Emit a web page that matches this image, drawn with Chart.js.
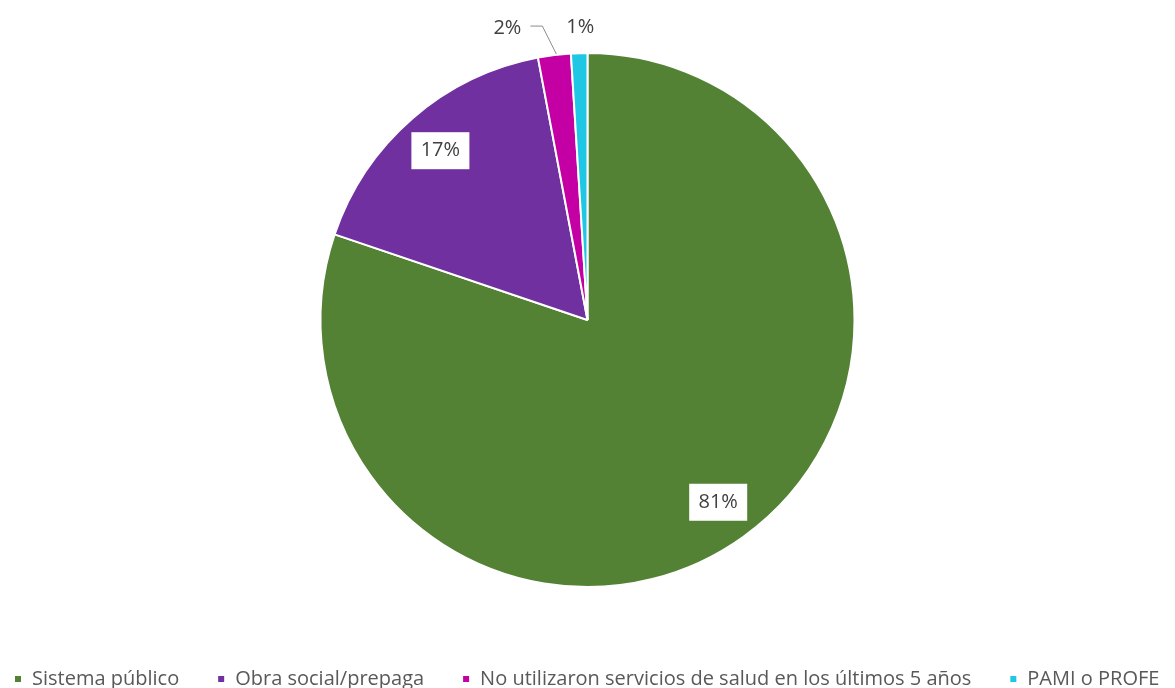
<!DOCTYPE html>
<html lang="es">
<head>
<meta charset="utf-8">
<title>Cobertura de salud</title>
<script src="https://cdn.jsdelivr.net/npm/chart.js@4/dist/chart.umd.min.js"></script>
<style>
  html, body { margin: 0; padding: 0; background: #ffffff; }
  #wrap { width: 1175px; height: 688px; position: relative; }
</style>
</head>
<body>
<div id="wrap"><canvas id="pie"></canvas></div>
<script>
// Categories and shares (percent)
const categories = [
  'Sistema público',
  'Obra social/prepaga',
  'No utilizaron servicios de salud en los últimos 5 años',
  'PAMI o PROFE'
];
const shares = [81, 17, 2, 1];
const sliceColors = ['#548235', '#7030A0', '#C400A4', '#1FC7E4'];

const FONT = '"Open Sans", Lato, "Liberation Sans", sans-serif';

// Percent labels: boxed inside big slices, outside with leader for thin ones
const sliceLabels = {
  id: 'sliceLabels',
  afterDatasetsDraw(chart) {
    const ctx = chart.ctx;
    const meta = chart.getDatasetMeta(0);
    const values = chart.data.datasets[0].data;
    const total = values.reduce((a, b) => a + b, 0);
    ctx.save();
    ctx.font = '20px ' + FONT;
    ctx.textAlign = 'center';
    ctx.textBaseline = 'middle';
    meta.data.forEach((arc, i) => {
      const p = arc.getProps(['x', 'y', 'startAngle', 'endAngle', 'outerRadius'], true);
      const mid = (p.startAngle + p.endAngle) / 2;
      const text = values[i] + '%';
      if (values[i] / total > 0.1) {
        const r = p.outerRadius * 0.84;
        const cx = p.x + Math.cos(mid) * r;
        const cy = p.y + Math.sin(mid) * r;
        const w = 58, h = 37;
        ctx.fillStyle = '#ffffff';
        ctx.fillRect(cx - w / 2, cy - h / 2, w, h);
        ctx.fillStyle = '#404040';
        ctx.fillText(text, cx, cy);
      } else {
        const ox = p.x + Math.cos(mid) * p.outerRadius;
        const oy = p.y + Math.sin(mid) * p.outerRadius;
        ctx.fillStyle = '#404040';
        if (i === 2) {
          ctx.strokeStyle = '#8c8c8c';
          ctx.lineWidth = 1;
          ctx.beginPath();
          ctx.moveTo(ox + 2, oy - 1);
          ctx.lineTo(ox - 12, oy - 29);
          ctx.lineTo(ox - 24, oy - 29);
          ctx.stroke();
          ctx.fillText(text, ox - 47, oy - 27);
        } else {
          ctx.fillText(text, ox + 1, oy - 26);
        }
      }
    });
    ctx.restore();
  }
};

new Chart(document.getElementById('pie'), {
  type: 'pie',
  data: {
    labels: categories,
    datasets: [{
      data: shares,
      backgroundColor: sliceColors,
      borderColor: '#ffffff',
      borderWidth: 2,
      radius: 267
    }]
  },
  options: {
    responsive: true,
    maintainAspectRatio: false,
    animation: false,
    layout: { padding: { top: 9, bottom: -11, left: -24, right: -24 } },
    plugins: {
      tooltip: { enabled: false },
      legend: {
        position: 'bottom',
        align: 'start',
        labels: {
          boxWidth: 8,
          boxHeight: 8,
          padding: 38,
          color: '#595959',
          font: { family: FONT, size: 20 }
        }
      }
    }
  },
  plugins: [sliceLabels]
});
</script>
</body>
</html>
